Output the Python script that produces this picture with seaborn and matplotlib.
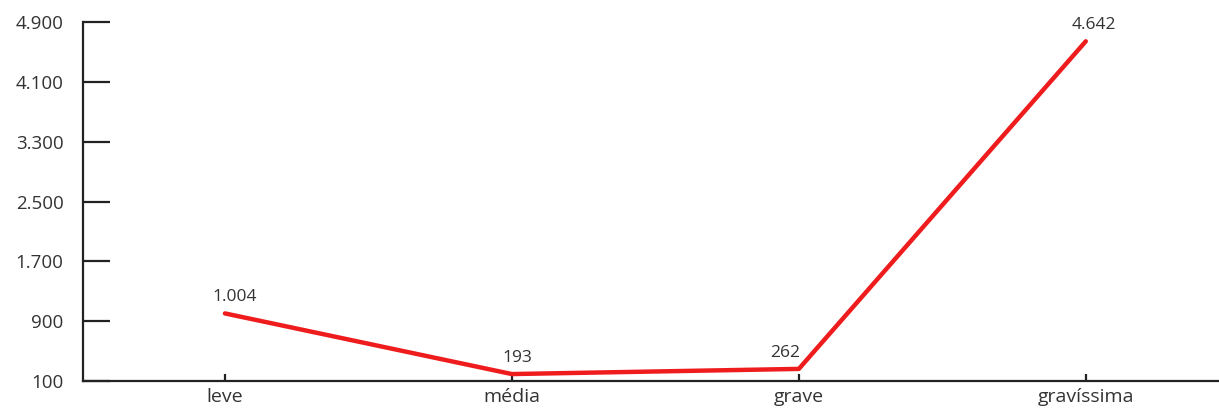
import matplotlib
matplotlib.use("Agg")
import matplotlib.pyplot as plt
import seaborn as sns
from matplotlib.ticker import FixedLocator, FuncFormatter

categories = ["leve", "média", "grave", "gravíssima"]
values = [1004, 193, 262, 4642]
yticks = [100, 900, 1700, 2500, 3300, 4100, 4900]

sns.set_theme(style="white")
plt.rcParams["font.family"] = ["Open Sans", "DejaVu Sans"]

def fmt(v):
    return f"{int(v):,}".replace(",", ".")

fig = plt.figure(figsize=(12.19, 4.12), dpi=100)
ax = fig.add_axes([0.068, 0.0752, 0.931, 0.8714])

sns.lineplot(x=categories, y=values, ax=ax, color="#ee1c1c", linewidth=3.2, sort=False)

ax.set_xlim(-0.495, 3.46)
ax.set_ylim(100, 4900)
ax.yaxis.set_major_locator(FixedLocator(yticks))
ax.yaxis.set_major_formatter(FuncFormatter(lambda v, p: fmt(v)))

for s in ["top", "right"]:
    ax.spines[s].set_visible(False)
for s in ["left", "bottom"]:
    ax.spines[s].set_color("#222222")
    ax.spines[s].set_linewidth(1.6)

ax.tick_params(axis="y", direction="in", length=19.5, width=1.6, color="#222222",
               pad=14, labelsize=13.5, labelcolor="#333333", left=True)
ax.tick_params(axis="x", direction="in", length=5, width=1.6, color="#222222",
               pad=5, labelsize=14, labelcolor="#333333", bottom=True)

label_dx = [7, 4, -10, 6]  # small horizontal nudges (points) for the value labels
for i, v in enumerate(values):
    ax.annotate(fmt(v), (i, v), xytext=(label_dx[i], 6), textcoords="offset points",
                ha="center", va="bottom", fontsize=12.5, color="#333333")

ax.set_xlabel("")
ax.set_ylabel("")
ax.grid(False)

fig.savefig("out.png", dpi=100)
